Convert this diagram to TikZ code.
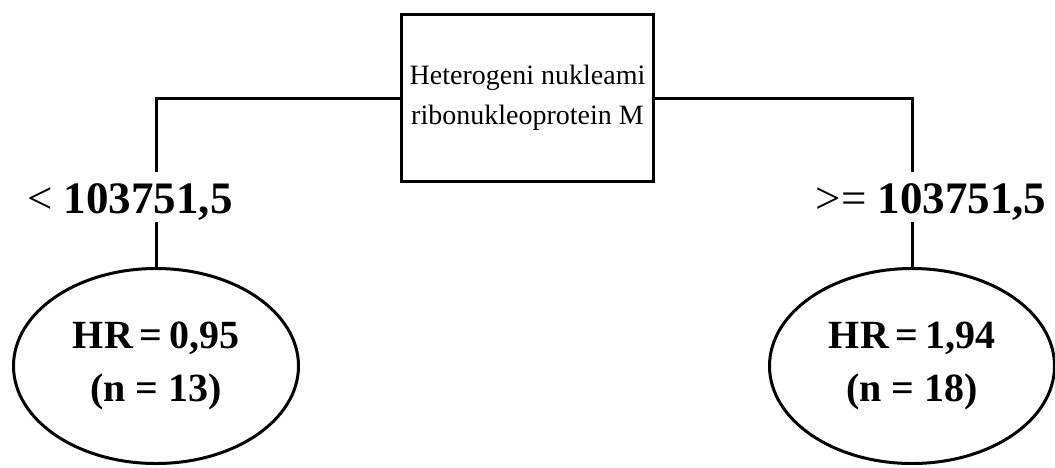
\documentclass[tikz,border=0pt]{standalone}
\usepackage{fontspec}
\setmainfont{Liberation Serif}
\usetikzlibrary{shapes.geometric}
\tikzset{
  rootbox/.style={draw, line width=3.5pt, minimum width=252pt, minimum height=167pt, inner sep=0pt, align=center, font=\fontsize{28}{40}\selectfont},
  leaf/.style={draw, ellipse, line width=3pt, minimum width=285pt, minimum height=195pt, inner sep=0pt, align=center, font=\bfseries\fontsize{40}{53}\selectfont},
  cond/.style={inner sep=0pt, font=\fontsize{45}{48}\selectfont},
  conn/.style={line width=3pt}
}
\begin{document}
\begin{tikzpicture}[x=1pt,y=-1pt]
\useasboundingbox (0,0) rectangle (1055,467);
\node[rootbox] (root) at (527.5,98) {Heterogeni nukleami\\ribonukleoprotein M};
\node[cond, anchor=center] (lc) at (130,202) {< \textbf{103751,5}};
\node[cond, anchor=center] (rc) at (931,202) {>= \textbf{103751,5}};
\node[leaf] (ll) at (156,366) {HR\,=\,0,95\\(n = 13)};
\node[leaf] (rl) at (912,366) {HR\,=\,1,94\\(n = 18)};
\coordinate (la) at (156,172);
\coordinate (lb) at (156,222);
\coordinate (ra) at (912,172);
\coordinate (rb) at (912,222);
\draw[conn] (root.west) -| (la);
\draw[conn] (lb) -- (ll.north);
\draw[conn] (root.east) -| (ra);
\draw[conn] (rb) -- (rl.north);
\end{tikzpicture}
\end{document}
